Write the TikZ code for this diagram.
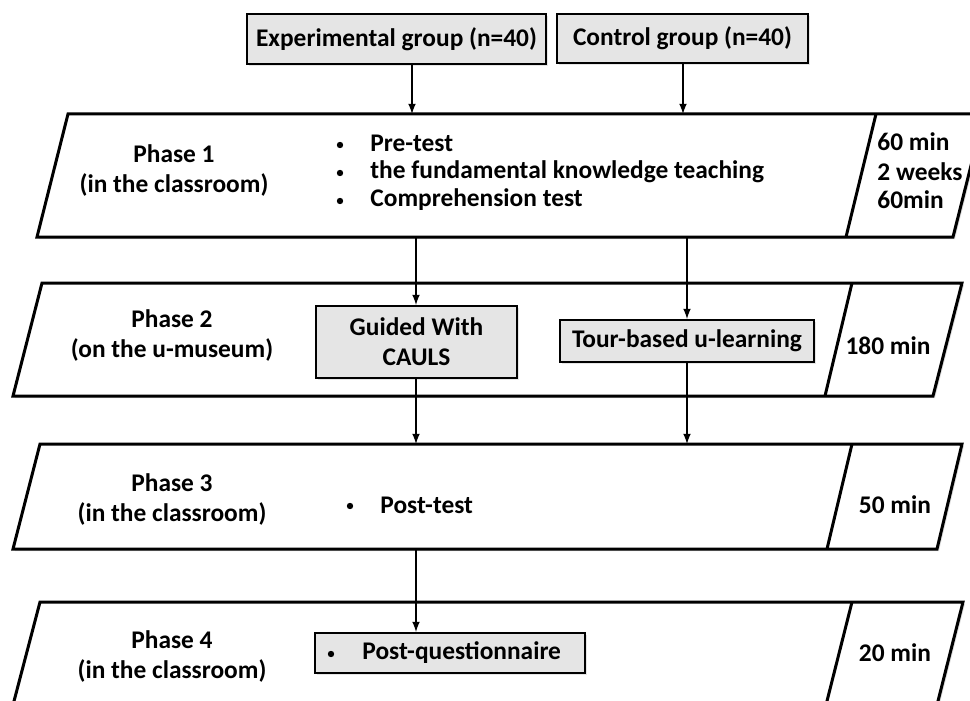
\documentclass[tikz,border=0pt]{standalone}
\usepackage{fontspec}
\setmainfont{Carlito}
\usetikzlibrary{shadows}

\definecolor{boxgray}{gray}{0.90}

\tikzset{
  phase/.style={line width=1.5pt, fill=white, drop shadow={opacity=0.25, shadow xshift=1pt, shadow yshift=-1pt}},
  grpbox/.style={draw, line width=1pt, fill=boxgray, inner sep=0pt, drop shadow={opacity=0.2, shadow xshift=0.8pt, shadow yshift=-0.8pt}},
  txt/.style={inner sep=0pt, font=\bfseries\fontsize{12.7}{15}\selectfont},
  dot/.style={circle, fill=black, inner sep=0pt, minimum size=3.2pt},
  flow/.style={->, >=latex, line width=0.75pt},
}

\begin{document}
\begin{tikzpicture}[x=0.5pt, y=-0.5pt]
\useasboundingbox (0, 0) rectangle (970, 701);
\clip (0, 0) rectangle (970, 701);

% phase shapes
\draw [phase] (68, 114) -- (984, 114) -- (953, 237) -- (37, 237) -- cycle;
\draw [line width=1.5pt] (876, 114) -- (846, 237);
\draw [phase] (42, 283) -- (962, 283) -- (933, 396) -- (13, 396) -- cycle;
\draw [line width=1.5pt] (852, 283) -- (825, 396);
\draw [phase] (40, 444) -- (962, 444) -- (937, 549) -- (13, 549) -- cycle;
\draw [line width=1.5pt] (852, 444) -- (827, 549);
\draw [phase] (40, 602) -- (963, 602) -- (937, 705) -- (13, 705) -- cycle;
\draw [line width=1.5pt] (852, 602) -- (826, 705);

% groups
\node [grpbox, txt, minimum width=149.5pt, minimum height=25pt] (exp) at (396.5, 39) {Experimental group (n=40)};
\node [grpbox, txt, minimum width=125.5pt, minimum height=24.5pt] (ctl) at (682.5, 38.5) {Control group (n=40)};

% phase 1
\node [txt, align=center] (P1) at (174, 171) {Phase 1\\(in the classroom)};
\node [dot] (P1d1) at (340, 145) {};
\node [dot] (P1d2) at (340, 173) {};
\node [dot] (P1d3) at (340, 201) {};
\node [txt, anchor=west] (P1a) at (370, 143) {Pre-test};
\node [txt, anchor=west] (P1b) at (370, 172) {the fundamental knowledge teaching};
\node [txt, anchor=west] (P1c) at (370, 200) {Comprehension test};
\node [txt, anchor=west] (T1a) at (877, 142) {60 min};
\node [txt, anchor=west] (T1b) at (877, 172) {2 weeks};
\node [txt, anchor=west] (T1c) at (877, 200) {60min};

% phase 2
\node [txt, align=center] (P2) at (172, 336) {Phase 2\\(on the u-museum)};
\node [grpbox, txt, align=center, minimum width=100.5pt, minimum height=36pt] (guided) at (416.5, 342) {Guided With\\CAULS};
\node [grpbox, txt, minimum width=127pt, minimum height=21pt] (tour) at (687, 341) {Tour-based u-learning};
\node [txt] (T2) at (888, 346) {180 min};

% phase 3
\node [txt, align=center] (P3) at (172, 500) {Phase 3\\(in the classroom)};
\node [dot] (P3d) at (350, 506) {};
\node [txt, anchor=west] (P3a) at (380, 505) {Post-test};
\node [txt] (T3) at (895, 505) {50 min};

% phase 4
\node [txt, align=center] (P4) at (172, 657) {Phase 4\\(in the classroom)};
\node [grpbox, minimum width=135pt, minimum height=20pt] (postq) at (450, 653) {};
\node [dot] (P4d) at (331, 654) {};
\node [txt, anchor=west] (P4a) at (362, 653) {Post-questionnaire};
\node [txt] (T4) at (895, 653) {20 min};

% connectors
\coordinate (e1) at (412, 114);
\coordinate (c1) at (683, 114);
\coordinate (g1) at (416, 237);
\coordinate (t1) at (687, 237);
\coordinate (g3) at (416, 444);
\coordinate (t3) at (687, 444);
\coordinate (q3) at (416, 549);
\draw [flow] (exp.south -| e1) -- (e1);
\draw [flow] (ctl.south -| c1) -- (c1);
\draw [flow] (g1) -- (guided.north -| g1);
\draw [flow] (t1) -- (tour.north -| t1);
\draw [flow] (guided.south -| g3) -- (g3);
\draw [flow] (tour.south -| t3) -- (t3);
\draw [flow] (q3) -- (postq.north -| q3);
\end{tikzpicture}
\end{document}
